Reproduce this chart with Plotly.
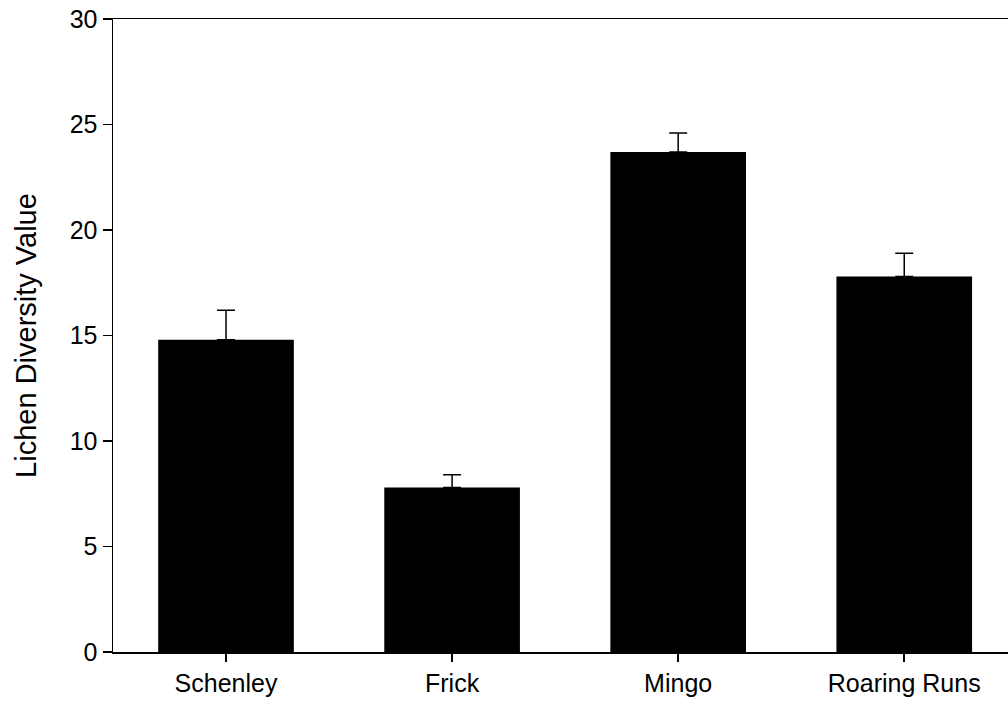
import plotly.graph_objects as go

categories = ["Schenley", "Frick", "Mingo", "Roaring Runs"]
means = [14.8, 7.8, 23.7, 17.8]
errors = [1.4, 0.6, 0.9, 1.1]
y_ticks = [0, 5, 10, 15, 20, 25, 30]

FONT = "Liberation Sans, Arial, sans-serif"

fig = go.Figure()
fig.add_trace(go.Bar(
    x=list(range(len(categories))),
    y=means,
    width=0.6,
    marker=dict(color="black", line=dict(width=0)),
    error_y=dict(type="data", array=errors, arrayminus=[0] * len(errors),
                 symmetric=False, color="black", thickness=1.5, width=9),
))

fig.update_layout(
    width=1008, height=702,
    margin=dict(l=113, r=0, t=19, b=50, pad=0),
    paper_bgcolor="white", plot_bgcolor="white",
    showlegend=False,
    font=dict(family=FONT, color="black", size=18),
    xaxis=dict(
        range=[-0.5, 3.459],
        automargin=False,
        tickmode="array",
        tickvals=list(range(len(categories))),
        ticktext=categories,
        ticks="outside", ticklen=8, tickwidth=1.5, tickcolor="black",
        showline=True, linecolor="black", linewidth=1.5, mirror=True,
        showgrid=False, zeroline=False,
        tickfont=dict(size=25, family=FONT, color="black"),
    ),
    yaxis=dict(
        range=[0, 30],
        automargin=False,
        tickmode="array",
        tickvals=y_ticks,
        ticktext=[str(v) for v in y_ticks],
        ticks="outside", ticklen=9, tickwidth=1.5, tickcolor="black",
        showline=True, linecolor="black", linewidth=1.5,
        showgrid=False, zeroline=False,
        tickfont=dict(size=25, family=FONT, color="black"),
        title=dict(text="Lichen Diversity Value", font=dict(size=29, family=FONT, color="black"),
                   standoff=24),
    ),
)

# remove the default 8px page margin so the figure fills the window exactly
fig.write_html("out.html",
               config={"displayModeBar": False, "staticPlot": True},
               post_script="document.body.style.margin='0';document.body.style.overflow='hidden';")
